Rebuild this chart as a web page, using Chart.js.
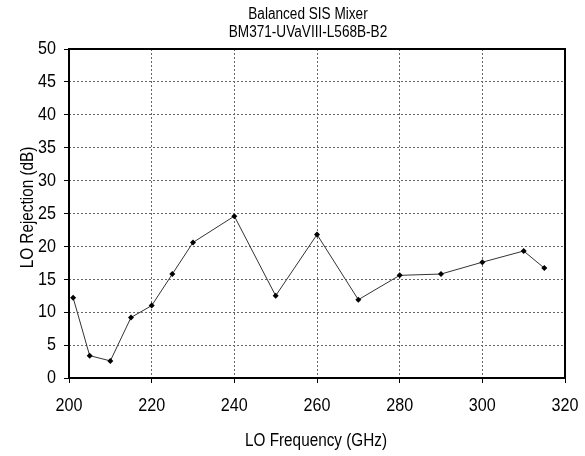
<!DOCTYPE html>
<html>
<head>
<meta charset="utf-8">
<script src="https://cdn.jsdelivr.net/npm/chart.js@4"></script>
<style>
  html, body { margin: 0; padding: 0; background: #fff; }
  canvas { display: block; }
</style>
</head>
<body>
<canvas id="chart" width="585" height="456"></canvas>
<script>
// LO rejection vs LO frequency
const freqs = [201, 205, 210, 215, 220, 225, 230, 240, 250, 260, 270, 280, 290, 300, 310, 315];
const rejection = [12.2, 3.4, 2.6, 9.2, 11.0, 15.8, 20.6, 24.6, 12.5, 21.8, 11.9, 15.6, 15.8, 17.6, 19.3, 16.7];
const titleLines = ['Balanced SIS Mixer', 'BM371-UVaVIII-L568B-B2'];
const xTitle = 'LO Frequency (GHz)';
const yTitle = 'LO Rejection (dB)';

const FONT = "'Liberation Sans', Arial, sans-serif";
const SQUEEZE = 0.85; // original text is a narrow Arial, no narrow face installed here

// draw text squeezed along its reading direction
function narrowText(ctx, text, x, y, size, align, baseline, vertical) {
  ctx.save();
  ctx.translate(x, y);
  if (vertical) ctx.rotate(-Math.PI / 2);
  ctx.scale(SQUEEZE, 1);
  ctx.font = size + 'px ' + FONT;
  ctx.fillStyle = '#000';
  ctx.textAlign = align;
  ctx.textBaseline = baseline;
  ctx.fillText(text, 0, 0);
  ctx.restore();
}

// solid frame round the plot area
const framePlugin = {
  id: 'frame',
  beforeDatasetsDraw(chart) {
    const a = chart.chartArea;
    const c = chart.ctx;
    c.save();
    c.strokeStyle = '#000';
    c.lineWidth = 2;
    c.strokeRect(a.left, a.top, a.right - a.left, a.bottom - a.top);
    c.restore();
  }
};

// titles and tick labels, placed from the chart's own scales
const textPlugin = {
  id: 'narrowLabels',
  afterDraw(chart) {
    const c = chart.ctx;
    const a = chart.chartArea;
    const xs = chart.scales.x, ys = chart.scales.y;

    narrowText(c, titleLines[0], 308, 18.5, 16, 'center', 'alphabetic');
    narrowText(c, titleLines[1], 308, 37, 16, 'center', 'alphabetic');

    ys.ticks.forEach(t => {
      narrowText(c, String(t.value), a.left - 13, ys.getPixelForValue(t.value), 19, 'right', 'middle');
    });
    xs.ticks.forEach(t => {
      narrowText(c, String(t.value), xs.getPixelForValue(t.value), a.bottom + 28, 19, 'center', 'middle');
    });

    narrowText(c, xTitle, (a.left + a.right) / 2 - 1, 446, 18, 'center', 'alphabetic');
    narrowText(c, yTitle, 33, (a.top + a.bottom) / 2 - 6, 18, 'center', 'alphabetic', true);
  }
};

const points = freqs.map((f, i) => ({ x: f, y: rejection[i] }));

const gridOpts = {
  color: '#666',
  lineWidth: 1,
  tickLength: 5,
  tickColor: '#000',
  tickBorderDash: [],
  tickWidth: 1
};

new Chart(document.getElementById('chart'), {
  type: 'scatter',
  data: {
    datasets: [{
      data: points,
      showLine: true,
      borderColor: '#333',
      borderWidth: 1,
      pointStyle: 'rectRot',
      pointRadius: 3,
      pointBackgroundColor: '#000',
      pointBorderColor: '#000',
      pointBorderWidth: 0
    }]
  },
  options: {
    responsive: false,
    animation: false,
    devicePixelRatio: 1,
    layout: { padding: { top: 49, right: 20, left: 0, bottom: 0 } },
    plugins: {
      legend: { display: false },
      tooltip: { enabled: false },
      title: { display: false }
    },
    scales: {
      x: {
        type: 'linear',
        min: 200,
        max: 320,
        afterFit: s => { s.height = 78; },
        ticks: { stepSize: 20, display: false },
        grid: gridOpts,
        border: { display: false, dash: [2, 2] }
      },
      y: {
        min: 0,
        max: 50,
        afterFit: s => { s.width = 69; },
        ticks: { stepSize: 5, display: false },
        grid: gridOpts,
        border: { display: false, dash: [2, 2] }
      }
    }
  },
  plugins: [framePlugin, textPlugin]
});
</script>
</body>
</html>
